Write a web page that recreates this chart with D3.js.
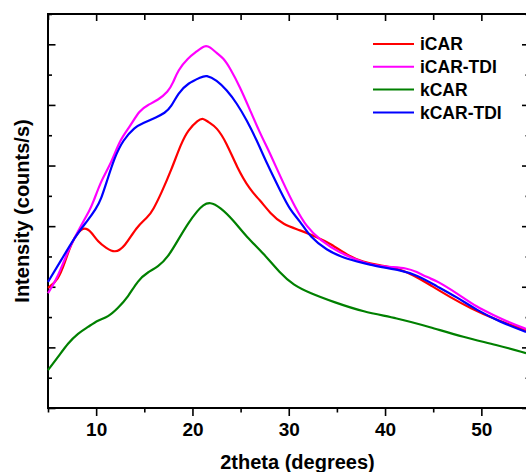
<!DOCTYPE html>
<html>
<head>
<meta charset="utf-8">
<script src="https://cdn.jsdelivr.net/npm/d3@7"></script>
<style>
  body { margin: 0; background: #fff; }
  svg { display: block; }
  text { font-family: "Liberation Sans", Arial, sans-serif; font-weight: bold; fill: #000; }
</style>
</head>
<body>
<div id="chart"></div>
<script>
// values (2theta in degrees, intensity in arbitrary counts/s)
const seriesNames = ["iCAR", "iCAR-TDI", "kCAR", "kCAR-TDI"];
const seriesColors = ["#ff0000", "#ff00ff", "#008000", "#0000ff"];

const iCarX = [5.0, 6.04, 6.73, 7.42, 8.12, 8.81, 9.50, 10.19, 11.05, 11.93, 12.96, 14.17, 15.38, 15.90, 16.77, 17.80, 18.84, 19.54, 20.58, 21.10, 21.61, 22.52, 23.56, 24.60, 25.98, 27.01, 28.05, 29.43, 31.17, 32.90, 34.28, 36.36, 37.74, 39.13, 41.21, 42.94, 44.67, 46.74, 48.82, 51.59, 54.64];
const iCarY = [396, 422, 478, 544, 581, 597, 581, 548, 528, 511, 531, 597, 630, 653, 709, 785, 874, 917, 950, 957, 944, 927, 874, 795, 719, 686, 643, 604, 587, 564, 544, 498, 482, 472, 462, 439, 406, 366, 330, 290, 257];

const iCarTdiX = [5.0, 6.04, 7.08, 8.46, 9.33, 9.67, 10.53, 11.57, 12.45, 13.48, 14.52, 15.38, 16.42, 17.46, 17.98, 18.50, 19.54, 20.40, 21.30, 21.82, 22.52, 23.20, 23.90, 24.94, 25.98, 27.01, 28.05, 29.43, 30.65, 31.86, 33.25, 35.32, 37.40, 38.44, 40.51, 42.25, 43.29, 44.32, 45.36, 46.05, 47.44, 49.52, 51.24, 52.98, 54.64];
const iCarTdiY = [379, 432, 521, 604, 653, 676, 752, 808, 884, 927, 983, 1000, 1016, 1043, 1072, 1115, 1155, 1175, 1198, 1191, 1171, 1155, 1122, 1059, 983, 907, 841, 742, 663, 597, 554, 511, 485, 472, 465, 462, 449, 432, 419, 406, 379, 333, 307, 281, 261];

const kCarX = [5.0, 6.04, 7.08, 8.12, 9.15, 10.19, 11.23, 12.27, 13.31, 14.35, 15.38, 16.42, 17.46, 18.50, 19.54, 20.58, 21.10, 21.82, 22.86, 24.24, 25.63, 27.36, 29.09, 30.47, 32.21, 34.63, 37.74, 41.21, 44.67, 48.13, 51.59, 54.64];
const kCarY = [125, 168, 214, 247, 267, 290, 300, 330, 366, 422, 449, 465, 498, 554, 610, 653, 670, 680, 663, 620, 564, 511, 445, 406, 379, 350, 317, 297, 267, 234, 208, 181];

const kCarTdiX = [5.0, 6.38, 7.77, 9.15, 9.98, 10.53, 11.12, 11.93, 12.79, 14.00, 14.87, 16.29, 17.12, 17.80, 18.50, 19.54, 20.92, 21.41, 22.52, 23.56, 24.60, 25.63, 26.67, 27.71, 29.09, 30.13, 31.17, 32.21, 33.94, 35.66, 37.74, 39.48, 41.55, 43.29, 45.36, 47.44, 49.52, 51.94, 54.64];
const kCarTdiY = [416, 488, 564, 620, 657, 690, 749, 828, 884, 927, 940, 960, 973, 993, 1039, 1072, 1092, 1099, 1082, 1049, 1006, 950, 884, 808, 719, 653, 617, 564, 521, 495, 478, 465, 455, 439, 402, 366, 323, 284, 251];

const xMajorTicks = [10, 20, 30, 40, 50];
const xMinorTicks = [5, 15, 25, 35, 45, 55];
const yMajorTicks = [0, 200, 400, 600, 800, 1000, 1200];
const yMinorTicks = [100, 300, 500, 700, 900, 1100, 1300];

const width = 526;
const height = 472;
const mLeft = 48, mTop = 14, mRight = 529.5, mBottom = 408;

const x = d3.scaleLinear().domain([5, 55]).range([mLeft, mRight]);
const y = d3.scaleLinear().domain([0, 1300]).range([mBottom, mTop]);

const svg = d3.select("#chart")
  .append("svg")
  .attr("width", width)
  .attr("height", height);

// axes (domain lines removed, frame drawn separately)
function styleAxis(g) {
  g.select(".domain").remove();
  g.selectAll(".tick line").attr("stroke", "#000").attr("stroke-width", 1.6);
  g.selectAll(".tick text").style("font-size", "19px").style("font-family", "'Liberation Sans', Arial, sans-serif").style("font-weight", "bold");
}

svg.append("g")
  .attr("transform", `translate(0,${mBottom})`)
  .call(d3.axisBottom(x).tickValues(xMajorTicks).tickSize(8).tickPadding(7).tickFormat(d3.format("d")))
  .call(styleAxis);

svg.append("g")
  .attr("transform", `translate(0,${mBottom})`)
  .call(d3.axisBottom(x).tickValues(xMinorTicks).tickSize(4.5).tickFormat(""))
  .call(styleAxis);

svg.append("g")
  .attr("transform", `translate(0,${mTop})`)
  .call(d3.axisTop(x).tickValues(xMajorTicks).tickSize(-7).tickFormat(""))
  .call(styleAxis);

svg.append("g")
  .attr("transform", `translate(0,${mTop})`)
  .call(d3.axisTop(x).tickValues(xMinorTicks).tickSize(-6).tickFormat(""))
  .call(styleAxis);

svg.append("g")
  .attr("transform", `translate(${mLeft},0)`)
  .call(d3.axisLeft(y).tickValues(yMajorTicks).tickSize(-7.5).tickFormat(""))
  .call(styleAxis);

svg.append("g")
  .attr("transform", `translate(${mLeft},0)`)
  .call(d3.axisLeft(y).tickValues(yMinorTicks).tickSize(-4).tickFormat(""))
  .call(styleAxis);

svg.append("g")
  .attr("transform", `translate(${mRight},0)`)
  .call(d3.axisRight(y).tickValues(yMajorTicks).tickSize(-7.5).tickFormat(""))
  .call(styleAxis);

svg.append("g")
  .attr("transform", `translate(${mRight},0)`)
  .call(d3.axisRight(y).tickValues(yMinorTicks).tickSize(-4).tickFormat(""))
  .call(styleAxis);

svg.append("rect")
  .attr("x", mLeft)
  .attr("y", mTop)
  .attr("width", mRight - mLeft)
  .attr("height", mBottom - mTop)
  .attr("fill", "none")
  .attr("stroke", "#000")
  .attr("stroke-width", 2);

// curves
const seriesX = [iCarX, iCarTdiX, kCarX, kCarTdiX];
const seriesY = [iCarY, iCarTdiY, kCarY, kCarTdiY];

const line = d3.line()
  .x(d => x(d[0]))
  .y(d => y(d[1]))
  .curve(d3.curveBasis);

seriesNames.forEach((name, i) => {
  const pts = seriesX[i].map((v, j) => [v, seriesY[i][j]]);
  svg.append("path")
    .datum(pts)
    .attr("fill", "none")
    .attr("stroke", seriesColors[i])
    .attr("stroke-width", 2.2)
    .attr("stroke-linejoin", "round")
    .attr("d", line);
});

// legend
const legend = svg.append("g").attr("transform", "translate(373,44)");
seriesNames.forEach((name, k) => {
  const g = legend.append("g").attr("transform", `translate(0,${k * 22.8})`);
  g.append("line")
    .attr("x1", 0).attr("x2", 41)
    .attr("y1", 0).attr("y2", 0)
    .attr("stroke", seriesColors[k])
    .attr("stroke-width", 2);
  g.append("text")
    .attr("x", 47)
    .attr("y", 6.3)
    .style("font-size", "17.5px")
    .text(name);
});

// axis titles
svg.append("text")
  .attr("x", 297.5)
  .attr("y", 469)
  .attr("text-anchor", "middle")
  .style("font-size", "20px")
  .text("2theta (degrees)");

svg.append("text")
  .attr("transform", "translate(29,211) rotate(-90)")
  .attr("text-anchor", "middle")
  .style("font-size", "20px")
  .text("Intensity (counts/s)");
</script>
</body>
</html>
